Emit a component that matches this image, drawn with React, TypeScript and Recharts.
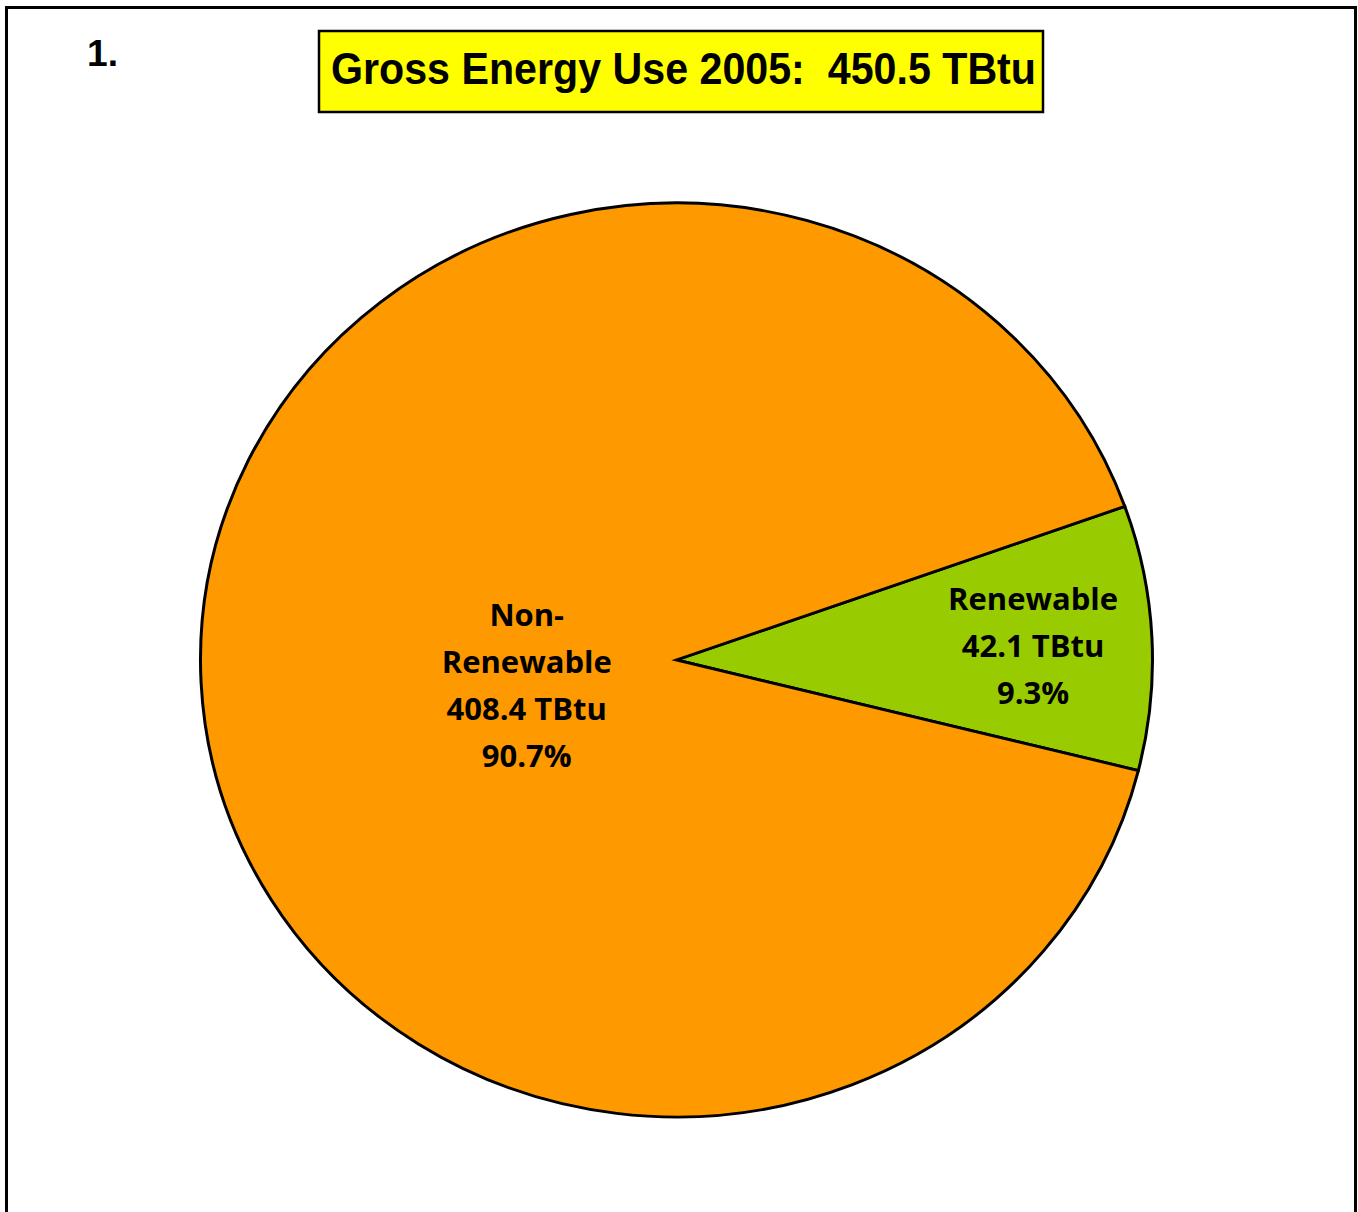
import React from 'react';
import { PieChart, Pie, Cell } from 'recharts';

// Slices, listed counter-clockwise from the start angle
const sliceNames = ['Renewable', 'Non-Renewable'];
const sliceValues = [42.1, 408.4];
const sliceColors = ['#99CC00', '#FF9900'];

const chartTitle = 'Gross Energy Use 2005:  450.5 TBtu';
const chartNumber = '1.';

const total = sliceValues.reduce((s, v) => s + v, 0);

const pieData = sliceNames.map((name, i) => ({
  name,
  value: sliceValues[i],
}));

// Excel drew the pie a little squashed vertically
const squash = 0.96;
const RADIAN = Math.PI / 180;

const renderLabel = (props: any) => {
  const { cx, cy, midAngle, outerRadius, index, name, value } = props;
  // renewable label sits out near the rim, the big slice's label closer to center
  const frac = index === 0 ? 0.75 : 0.315;
  const shift = index === 0 ? 3 : 19;
  const r = outerRadius * frac;
  const x = cx + r * Math.cos(-midAngle * RADIAN);
  const y = cy + r * Math.sin(-midAngle * RADIAN) + shift;

  const pct = ((value / total) * 100).toFixed(1) + '%';
  const nameLines = name.includes('-') ? [name.split('-')[0] + '-', name.split('-')[1]] : [name];
  const lines = [...nameLines, `${value.toFixed(1)} TBtu`, pct];
  const lineH = 47;
  const top = -((lines.length - 1) * lineH) / 2;

  return (
    <text
      key={`lbl-${index}`}
      transform={`translate(${x}, ${y}) scale(1, ${1 / squash})`}
      textAnchor="middle"
      fontFamily="'Open Sans', Lato, sans-serif"
      fontWeight={700}
      fontSize={31}
      fill="#000"
    >
      {lines.map((ln, i) => (
        <tspan key={i} x={0} y={top + i * lineH} dy="0.36em">
          {ln}
        </tspan>
      ))}
    </text>
  );
};

export default function App() {
  return (
    <div
      style={{
        position: 'absolute',
        left: 0,
        top: 0,
        width: 1358,
        height: 1212,
        overflow: 'hidden',
        background: '#fff',
      }}
    >
      {/* outer frame, bottom edge runs off the page */}
      <div
        style={{
          position: 'absolute',
          left: 5,
          top: 6,
          width: 1346,
          height: 1300,
          border: '3px solid #000',
        }}
      />

      <div
        style={{
          position: 'absolute',
          left: 0,
          top: 0,
          transform: `scaleY(${squash})`,
          transformOrigin: '676.5px 660px',
        }}
      >
        <PieChart width={1358} height={1212} margin={{ top: 0, right: 0, bottom: 0, left: 0 }}>
          <Pie
            data={pieData}
            dataKey="value"
            nameKey="name"
            cx={676.5}
            cy={660}
            outerRadius={476}
            startAngle={-14}
            endAngle={346}
            stroke="#000"
            strokeWidth={3}
            label={renderLabel}
            labelLine={false}
            isAnimationActive={false}
          >
            {pieData.map((d, i) => (
              <Cell key={d.name} fill={sliceColors[i]} />
            ))}
          </Pie>
        </PieChart>
      </div>

      <svg
        width={1358}
        height={1212}
        style={{ position: 'absolute', left: 0, top: 0, pointerEvents: 'none' }}
      >
        <text
          x={87}
          y={66}
          fontFamily="'Liberation Sans', Arial, sans-serif"
          fontWeight="bold"
          fontSize={36}
          textLength={31}
          lengthAdjust="spacingAndGlyphs"
          fill="#000"
        >
          {chartNumber}
        </text>
        <rect x={319} y={31} width={724} height={81} fill="#FFFF00" stroke="#000" strokeWidth={2.5} />
        <text
          x={331}
          y={84}
          fontFamily="'Liberation Sans', Arial, sans-serif"
          fontWeight="bold"
          fontSize={44}
          textLength={705}
          lengthAdjust="spacingAndGlyphs"
          fill="#000"
          style={{ whiteSpace: 'pre' }}
        >
          {chartTitle}
        </text>
      </svg>
    </div>
  );
}
